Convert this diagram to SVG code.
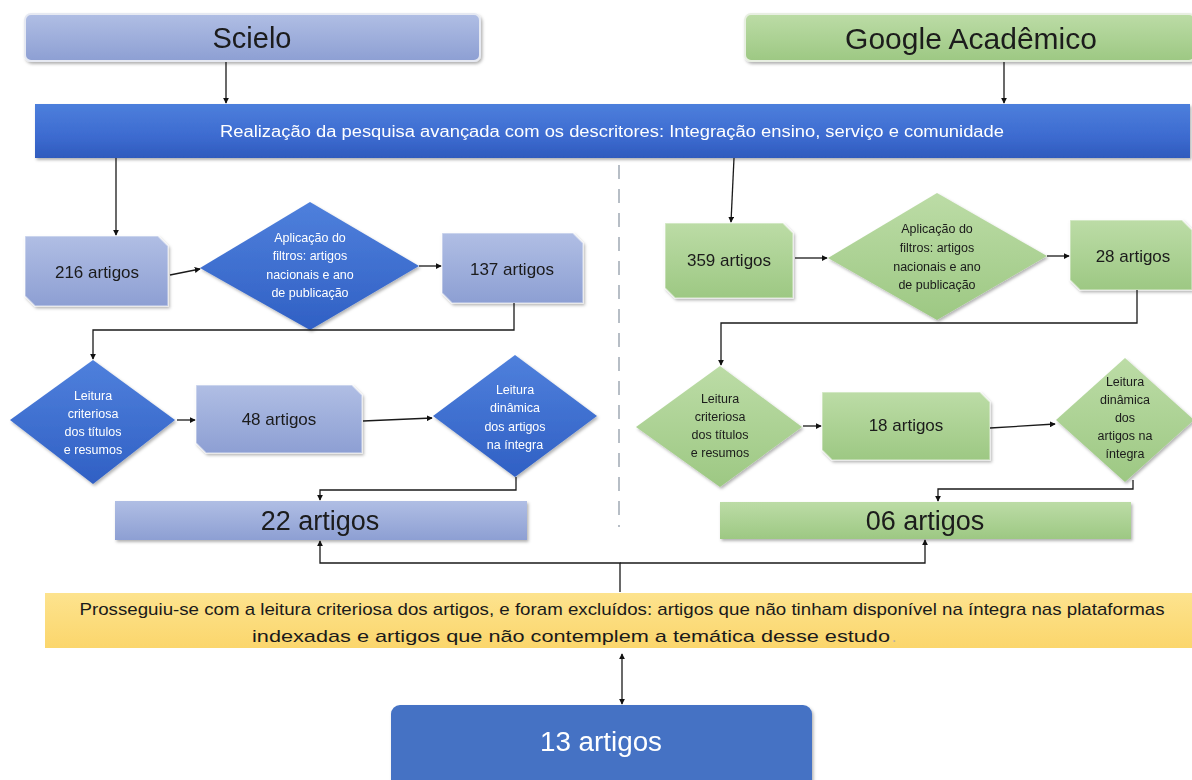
<svg xmlns="http://www.w3.org/2000/svg" width="1192" height="780" viewBox="0 0 1192 780">
<defs>
<linearGradient id="gLB" x1="0" y1="0" x2="0" y2="1"><stop offset="0" stop-color="#b0bee4"/><stop offset="1" stop-color="#8d9fd3"/></linearGradient>
<linearGradient id="gDB" x1="0" y1="0" x2="0" y2="1"><stop offset="0" stop-color="#4f80dc"/><stop offset="1" stop-color="#3060c4"/></linearGradient>
<linearGradient id="gBan" x1="0" y1="0" x2="0" y2="1"><stop offset="0" stop-color="#4d7fdc"/><stop offset="0.6" stop-color="#3d6bd0"/><stop offset="1" stop-color="#2f5bbd"/></linearGradient>
<linearGradient id="gG" x1="0" y1="0" x2="0" y2="1"><stop offset="0" stop-color="#bcdca6"/><stop offset="1" stop-color="#9dc883"/></linearGradient>
<linearGradient id="gY" x1="0" y1="0" x2="0" y2="1"><stop offset="0" stop-color="#fde38e"/><stop offset="1" stop-color="#fbd66c"/></linearGradient>
<filter id="sh" x="-5%" y="-10%" width="112%" height="130%"><feDropShadow dx="1.5" dy="2" stdDeviation="1.5" flood-color="#000" flood-opacity="0.3"/></filter>
<marker id="ah" viewBox="0 0 8 8" refX="7" refY="4" markerWidth="6" markerHeight="6" markerUnits="userSpaceOnUse" orient="auto-start-reverse"><path d="M0,0 L8,4 L0,8 z" fill="#111"/></marker>
</defs>
<style>
text{font-family:"Liberation Sans",Arial,sans-serif;text-anchor:middle;dominant-baseline:central}
.dk{fill:#1a1a1a}
.wt{fill:#ffffff}
.conn path{fill:none;stroke:#1a1a1a;stroke-width:1.3}
.bx{font-size:17px}
.dm{font-size:12.5px}
.edge{stroke:#ffffff;stroke-opacity:0.45;stroke-width:1.5}
</style>
<rect width="1192" height="780" fill="#ffffff"/>

<line x1="619" y1="165" x2="619" y2="527" stroke="#b7bec6" stroke-width="2" stroke-dasharray="14 10"/>

<g id="scielo" filter="url(#sh)">
<rect x="25" y="14" width="455" height="47" rx="6" fill="url(#gLB)" stroke="#e6e9f2" stroke-width="2"/>
<text x="252" y="38" font-size="29" class="dk">Scielo</text>
</g>
<g id="google" filter="url(#sh)">
<rect x="745" y="14" width="450" height="47" rx="6" fill="url(#gG)" stroke="#e8efe2" stroke-width="2"/>
<text x="971" y="38" font-size="30" class="dk">Google Acadêmico</text>
</g>

<g id="banner" filter="url(#sh)">
<rect x="35" y="104" width="1155" height="54" fill="url(#gBan)"/>
<text x="612" y="131" font-size="16" class="wt" textLength="784" lengthAdjust="spacingAndGlyphs">Realização da pesquisa avançada com os descritores: Integração ensino, serviço e comunidade</text>
</g>

<g id="s216" filter="url(#sh)">
<polygon points="25,236 158,236 168,246 168,306 35,306 25,296" fill="url(#gLB)" class="edge"/>
<text x="97" y="272" class="bx dk">216 artigos</text>
</g>
<g id="sfiltro" filter="url(#sh)">
<polygon points="310,202 419,266 310,330 200,268" fill="url(#gDB)"/>
<text class="dm wt"><tspan x="310" y="238">Aplicação do</tspan><tspan x="310" y="256">filtros: artigos</tspan><tspan x="310" y="275">nacionais e ano</tspan><tspan x="310" y="293">de publicação</tspan></text>
</g>
<g id="s137" filter="url(#sh)">
<polygon points="442,233 573,233 583,243 583,303 452,303 442,293" fill="url(#gLB)" class="edge"/>
<text x="512" y="269" class="bx dk">137 artigos</text>
</g>
<g id="sleitura1" filter="url(#sh)">
<polygon points="93,360 175,420 93,484 10,420" fill="url(#gDB)"/>
<text class="dm wt"><tspan x="93" y="396">Leitura</tspan><tspan x="93" y="414">criteriosa</tspan><tspan x="93" y="432">dos títulos</tspan><tspan x="93" y="450">e resumos</tspan></text>
</g>
<g id="s48" filter="url(#sh)">
<polygon points="196,385 352,385 362,395 362,453 206,453 196,443" fill="url(#gLB)" class="edge"/>
<text x="279" y="419" class="bx dk">48 artigos</text>
</g>
<g id="sleitura2" filter="url(#sh)">
<polygon points="515,355 597,416 515,477 433,416" fill="url(#gDB)"/>
<text class="dm wt"><tspan x="515" y="390">Leitura</tspan><tspan x="515" y="408">dinâmica</tspan><tspan x="515" y="427">dos artigos</tspan><tspan x="515" y="445">na íntegra</tspan></text>
</g>
<g id="s22" filter="url(#sh)">
<rect x="115" y="501" width="412" height="39" fill="url(#gLB)"/>
<text x="320" y="521" font-size="27" class="dk">22 artigos</text>
</g>

<g id="g359" filter="url(#sh)">
<polygon points="665,223 783,223 793,233 793,298 675,298 665,288" fill="url(#gG)" class="edge"/>
<text x="729" y="260" class="bx dk">359 artigos</text>
</g>
<g id="gfiltro" filter="url(#sh)">
<polygon points="937,193 1047,256 937,320 828,258" fill="url(#gG)"/>
<text class="dm dk"><tspan x="937" y="229">Aplicação do</tspan><tspan x="937" y="248">filtros: artigos</tspan><tspan x="937" y="267">nacionais e ano</tspan><tspan x="937" y="285">de publicação</tspan></text>
</g>
<g id="g28" filter="url(#sh)">
<polygon points="1070,220 1182,220 1192,230 1192,290 1080,290 1070,280" fill="url(#gG)" class="edge"/>
<text x="1133" y="256" class="bx dk">28 artigos</text>
</g>
<g id="gleitura1" filter="url(#sh)">
<polygon points="720,366 802,427 720,487 636,427" fill="url(#gG)"/>
<text class="dm dk"><tspan x="720" y="399">Leitura</tspan><tspan x="720" y="417">criteriosa</tspan><tspan x="720" y="435">dos títulos</tspan><tspan x="720" y="453">e resumos</tspan></text>
</g>
<g id="g18" filter="url(#sh)">
<polygon points="822,392 980,392 990,402 990,460 832,460 822,450" fill="url(#gG)" class="edge"/>
<text x="906" y="425" class="bx dk">18 artigos</text>
</g>
<g id="gleitura2" filter="url(#sh)">
<polygon points="1125,358 1194,420 1125,482 1056,420" fill="url(#gG)"/>
<text class="dm dk"><tspan x="1125" y="382">Leitura</tspan><tspan x="1125" y="400">dinâmica</tspan><tspan x="1125" y="418">dos</tspan><tspan x="1125" y="436">artigos na</tspan><tspan x="1125" y="454">íntegra</tspan></text>
</g>
<g id="g06" filter="url(#sh)">
<rect x="720" y="502" width="411" height="37" fill="url(#gG)"/>
<text x="925" y="521" font-size="27" class="dk">06 artigos</text>
</g>

<g id="exclusao">
<rect x="45" y="593" width="1150" height="55" fill="url(#gY)"/>
<text x="622" y="609" font-size="17" class="dk" textLength="1085" lengthAdjust="spacingAndGlyphs">Prosseguiu-se com a leitura criteriosa dos artigos, e foram excluídos: artigos que não tinham disponível na íntegra nas plataformas</text>
<text x="571" y="636" font-size="17" class="dk" textLength="638" lengthAdjust="spacingAndGlyphs">indexadas e artigos que não contemplem a temática desse estudo</text>
<text x="894" y="636" font-size="17" fill="#b8b0a0">.</text>
</g>

<g id="final" filter="url(#sh)">
<rect x="391" y="705" width="421" height="90" rx="9" fill="#4472c4"/>
<text x="601" y="742" font-size="27" class="wt" textLength="122" lengthAdjust="spacingAndGlyphs">13 artigos</text>
</g>

<g class="conn">
<path d="M226,62 V103" marker-end="url(#ah)"/>
<path d="M1004,62 V103" marker-end="url(#ah)"/>
<path d="M116,158 V235" marker-end="url(#ah)"/>
<path d="M170,275 L200,269" marker-end="url(#ah)"/>
<path d="M419,266 H441" marker-end="url(#ah)"/>
<path d="M514,303 V330 H93 V359" marker-end="url(#ah)"/>
<path d="M177,420 H195" marker-end="url(#ah)"/>
<path d="M363,421 L432,418" marker-end="url(#ah)"/>
<path d="M516,477 V490 H320 V500" marker-end="url(#ah)"/>
<path d="M620,592 V563 H320 V541" marker-end="url(#ah)"/>
<path d="M620,563 H925 V540" marker-end="url(#ah)"/>
<path d="M734,158 L731,222" marker-end="url(#ah)"/>
<path d="M795,258 H827" marker-end="url(#ah)"/>
<path d="M1047,256 H1069" marker-end="url(#ah)"/>
<path d="M1137,290 V323 H721 V365" marker-end="url(#ah)"/>
<path d="M803,426 H821" marker-end="url(#ah)"/>
<path d="M990,428 L1055,424" marker-end="url(#ah)"/>
<path d="M1133,480 V489 H938 V501" marker-end="url(#ah)"/>
<path d="M622,654 V704" marker-start="url(#ah)" marker-end="url(#ah)"/>
</g>
</svg>
